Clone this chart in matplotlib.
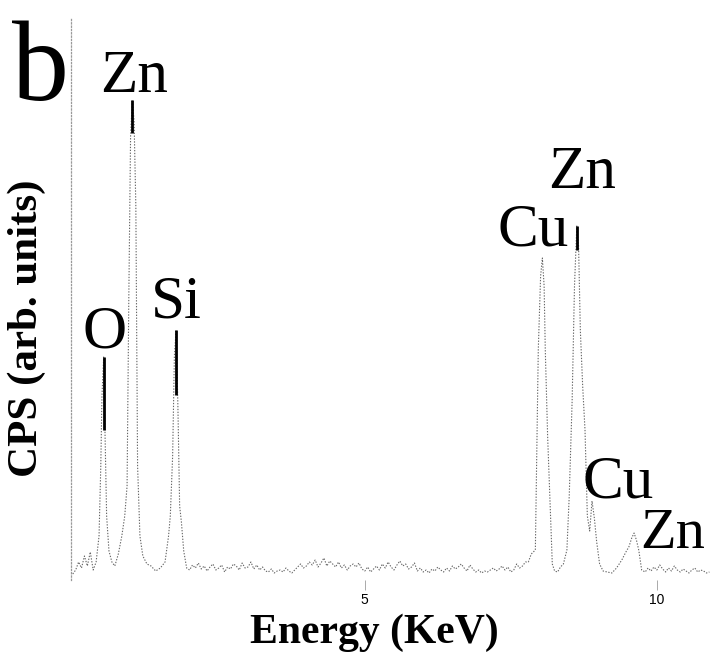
import numpy as np
import matplotlib
matplotlib.use("Agg")
import matplotlib.pyplot as plt

# --- EDS spectrum (energy in keV, counts in arb. units) ---
peak_e = [0.00, 0.05, 0.10, 0.15, 0.20, 0.25, 0.30, 0.35, 0.40, 0.45, 0.48,
          0.50, 0.53, 0.55, 0.58, 0.62, 0.67, 0.72, 0.78, 0.84, 0.89, 0.93,
          0.96, 0.99, 1.02, 1.05, 1.08, 1.11, 1.15, 1.20, 1.27, 1.34, 1.42,
          1.50, 1.58, 1.64, 1.67, 1.71, 1.74, 1.77, 1.80, 1.83, 1.86, 1.90,
          1.95]
peak_c = [2, 6, 14, 8, 20, 10, 24, 6, 14, 40, 110,
          180, 219, 150, 60, 25, 14, 10, 22, 40, 60, 90,
          280, 440, 476, 455, 370, 110, 40, 20, 12, 10, 5,
          8, 14, 40, 60, 120, 220, 246, 170, 70, 54, 25,
          8]

# background between the low and high energy lines (0.05 keV steps from 2.0)
base_start = 2.0
base_c = [6, 11, 8, 13, 7, 10, 5, 9, 12, 6, 8, 11, 4, 9, 7, 12, 10, 6, 13, 8,
          9, 14, 7, 11, 6, 9, 5, 4, 7, 3, 5, 6, 4, 8, 5, 3, 6, 9, 12, 8,
          10, 14, 11, 16, 9, 13, 18, 10, 15, 12, 9, 14, 8, 11, 6, 10, 12, 9, 13, 7,
          5, 9, 4, 7, 10, 6, 12, 8, 14, 9, 6, 11, 15, 10, 12, 7, 9, 13, 5, 8,
          4, 6, 3, 7, 5, 9, 6, 4, 8, 5, 10, 7, 9, 12, 8, 5, 11, 7, 4, 6,
          3, 5, 4, 6, 8, 5, 7, 10, 6, 9, 4, 6, 12, 8, 10, 14]

kline_e = [7.80, 7.85, 7.92, 7.97, 8.01, 8.04, 8.07, 8.09, 8.13, 8.17, 8.21,
           8.25, 8.30, 8.35, 8.40, 8.46, 8.50, 8.55, 8.59, 8.63, 8.66, 8.69,
           8.73, 8.77, 8.81, 8.85, 8.89, 8.93, 8.97, 9.02, 9.08, 9.15, 9.23,
           9.31, 9.40, 9.47, 9.52, 9.57, 9.61, 9.65, 9.69, 9.74, 9.80, 9.85,
           9.90, 9.95, 10.00, 10.05, 10.10, 10.15, 10.20, 10.25, 10.30, 10.35,
           10.40, 10.45, 10.50, 10.55, 10.60, 10.65, 10.70, 10.75, 10.80, 10.85,
           10.90]
kline_c = [14, 22, 26, 226, 300, 318, 290, 226, 140, 76, 12,
           5, 4, 9, 12, 26, 80, 176, 290, 350, 330, 246,
           190, 146, 60, 45, 75, 58, 34, 12, 5, 4, 3,
           8, 16, 24, 29, 38, 43, 36, 26, 6, 4, 8,
           5, 9, 6, 11, 7, 4, 8, 5, 10, 6,
           4, 7, 5, 3, 6, 8, 4, 6, 5, 3,
           4]

# darker top segments of the strongest lines in the scan
dark_e = [0.53, 1.02, 1.77, 8.63]
dark_top = [219, 476, 246, 350]
dark_bottom = [146, 443, 181, 326]

label_names = ["Zn", "O", "Si", "Cu", "Zn", "Cu", "Zn"]
label_pos = [(0.47, 484), (0.16, 229), (1.33, 259), (7.28, 331),
             (8.14, 388), (8.73, 78), (9.72, 28)]

base_e = base_start + 0.05 * np.arange(len(base_c))
energy = np.concatenate([peak_e, base_e, kline_e])
counts = np.concatenate([peak_c, base_c, kline_c])

plt.rcParams['font.family'] = ['Liberation Serif', 'DejaVu Serif']

fig = plt.figure(figsize=(7.1, 6.52), dpi=100)
ax = fig.add_axes([71 / 710, 72 / 652, 639 / 710, 562 / 652])

ax.plot(energy, counts, color='#666666', lw=0.8, ls=(0, (1.2, 1.4)))
ax.vlines(dark_e, dark_bottom, dark_top, color='black', lw=2.0)

ax.set_xlim(-0.03, 10.91)
ax.set_ylim(-4, 558)

for i, (name, (e, h)) in enumerate(zip(label_names, label_pos)):
    size = 42 if i == len(label_names) - 1 else 44
    ax.text(e, h, name, fontsize=size, ha='left', va='baseline', color='black')

fig.text(12 / 710, (652 - 100) / 652, 'b', fontsize=82, va='baseline')

for side in ['top', 'right', 'bottom']:
    ax.spines[side].set_visible(False)
ax.spines['left'].set_color('#999999')
ax.spines['left'].set_linestyle(':')
ax.spines['left'].set_linewidth(0.9)

ax.set_yticks([])
ax.set_xticks([5, 10])
ax.set_xticklabels(['5', '10'], fontfamily='Liberation Sans', fontsize=10)
ax.tick_params(axis='x', direction='out', length=7, width=0.7,
               color='#aaaaaa', pad=2)

ax.set_xlabel('Energy (KeV)', fontsize=30, fontweight='bold')
ax.xaxis.label.set_verticalalignment('baseline')
ax.xaxis.set_label_coords(0.474, (580 - 643) / 562)
ax.set_ylabel('CPS (arb. units)', fontsize=31, fontweight='bold')
ax.yaxis.set_label_coords((46 - 71) / 639, (580 - 328) / 562)

fig.savefig('out.png', dpi=100)
